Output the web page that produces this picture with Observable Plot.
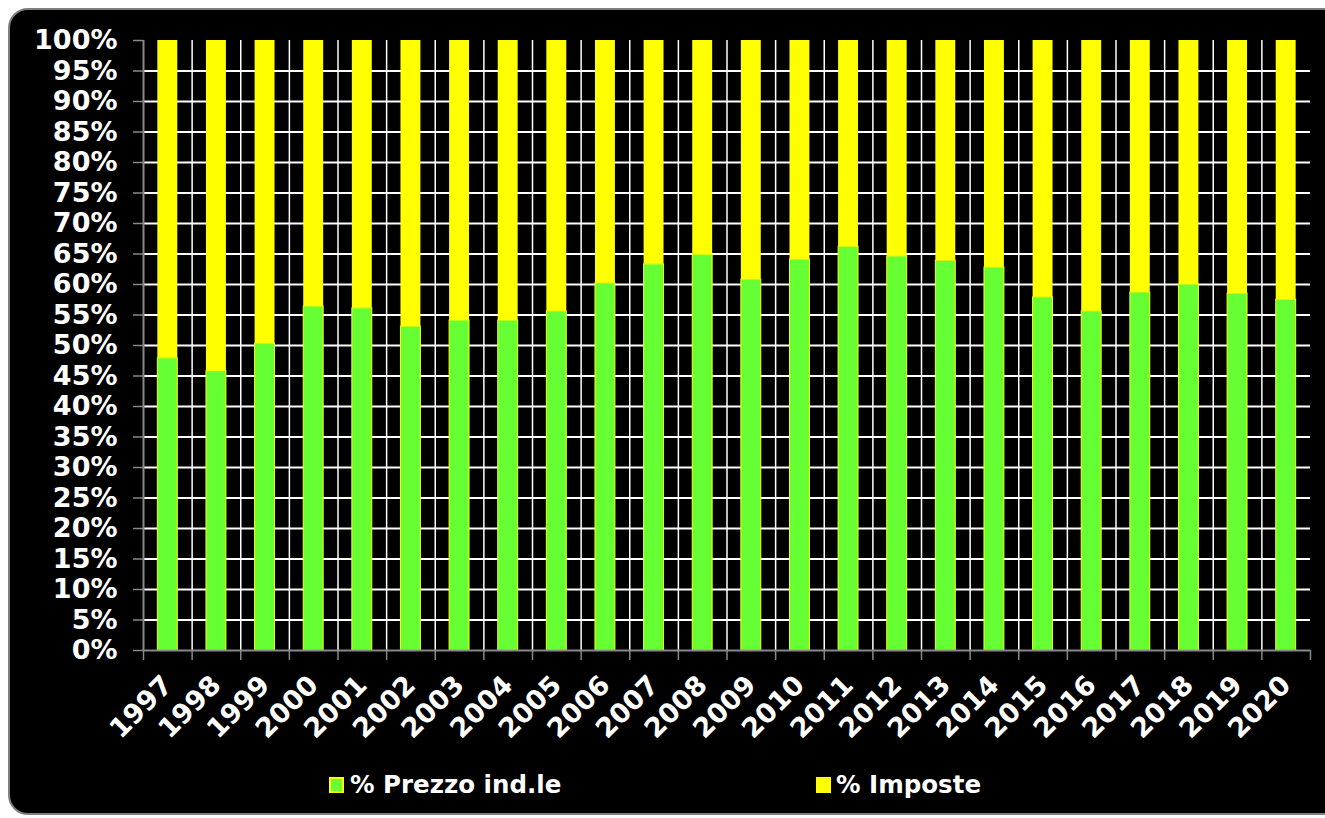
<!DOCTYPE html>
<html>
<head>
<meta charset="utf-8">
<script src="https://cdn.jsdelivr.net/npm/d3@7"></script>
<script src="https://cdn.jsdelivr.net/npm/@observablehq/plot@0.6"></script>
<style>
  html, body { margin: 0; padding: 0; background: #fff; }
  body { width: 1325px; height: 818px; position: relative; overflow: hidden; font-family: "DejaVu Sans", Verdana, sans-serif; }
  #box { position: absolute; left: 8px; top: 8px; width: 1340px; height: 807px; background: #000; border: 2px solid #808080; border-radius: 20px; box-sizing: border-box; }
  #chart { position: absolute; left: 0; top: 0; }
  .lg { position: absolute; color: #fff; font-weight: bold; font-size: 24.5px; line-height: 24.5px; white-space: nowrap; }
  .sw { position: absolute; width: 15px; height: 16px; box-sizing: border-box; }
</style>
</head>
<body>
<div id="box"></div>
<div id="chart"></div>
<div class="sw" style="left:329px;top:777px;background:#66FF33;border:2px solid #FFFF00;"></div>
<div class="lg" style="left:350px;top:773px;">% Prezzo ind.le</div>
<div class="sw" style="left:816px;top:777px;background:#FFFF00;"></div>
<div class="lg" style="left:836px;top:773px;">% Imposte</div>
<script>
const years = ["1997","1998","1999","2000","2001","2002","2003","2004","2005","2006","2007","2008","2009","2010","2011","2012","2013","2014","2015","2016","2017","2018","2019","2020"];
const prezzo = [47.9,45.8,50.3,56.4,56.1,53.1,54.1,54.1,55.6,60.2,63.3,64.9,60.8,64.1,66.2,64.6,63.9,62.8,57.9,55.6,58.7,60.0,58.5,57.5];
const imposte = [52.1,54.2,49.7,43.6,43.9,46.9,45.9,45.9,44.4,39.8,36.7,35.1,39.2,35.9,33.8,35.4,36.1,37.2,42.1,44.4,41.3,40.0,41.5,42.5];
const series = ["% Prezzo ind.le", "% Imposte"];
const colors = ["#66FF33", "#FFFF00"];
const yTicks = [0,5,10,15,20,25,30,35,40,45,50,55,60,65,70,75,80,85,90,95,100];

const table = years.flatMap((y, i) => [
  {year: y, series: series[0], value: prezzo[i]},
  {year: y, series: series[1], value: imposte[i]}
]);

const W = 1325, H = 760, ML = 143, MR = 15, MT = 40, MB = 110;
const step = (W - ML - MR) / years.length;

const chart = Plot.plot({
  width: W,
  height: H,
  marginLeft: ML,
  marginRight: MR,
  marginTop: MT,
  marginBottom: MB,
  style: {background: "transparent", color: "white", fontFamily: "DejaVu Sans, Verdana, sans-serif", fontWeight: "bold"},
  x: {domain: years, paddingInner: 0.59, paddingOuter: 0.295, round: false, label: null},
  y: {domain: [0, 100], label: null},
  color: {domain: series, range: colors},
  marks: [
    Plot.ruleY(yTicks.filter(t => t > 0 && t < 100), {stroke: "white", strokeWidth: 2}),
    Plot.ruleX(years.slice(0, -1), {x: d => d, dx: step / 2, y1: 0, y2: 100, stroke: "white", strokeWidth: 1.5}),
    Plot.barY(table, Plot.stackY({x: "year", y: "value", fill: "series", order: series})),
    Plot.barY(table.filter(d => d.series === series[0]), {x: "year", y: "value", fill: "none", stroke: "#FFFF00", strokeWidth: 1}),
    Plot.ruleX([years[0]], {x: d => d, dx: -step / 2, y1: 0, y2: 100, stroke: "#888", strokeWidth: 2}),
    Plot.ruleY([0], {stroke: "#888", strokeWidth: 2}),
    Plot.axisY({ticks: yTicks, tickSize: 10, tickPadding: 16, tickFormat: d => d + "%", fontSize: 27, fill: "white", stroke: "#888", strokeWidth: 1.5, label: null}),
    Plot.axisX({tickSize: 10, tickFormat: () => "", dx: step / 2, stroke: "#888", strokeWidth: 1.5, label: null}),
    Plot.axisX({ticks: [years[0]], tickSize: 10, tickFormat: () => "", dx: -step / 2, stroke: "#888", strokeWidth: 1.5, label: null}),
    Plot.axisX({tickSize: 0, tickRotate: -45, tickPadding: 30, fontSize: 27, fill: "white", label: null})
  ]
});
document.getElementById("chart").appendChild(chart);
</script>
</body>
</html>
